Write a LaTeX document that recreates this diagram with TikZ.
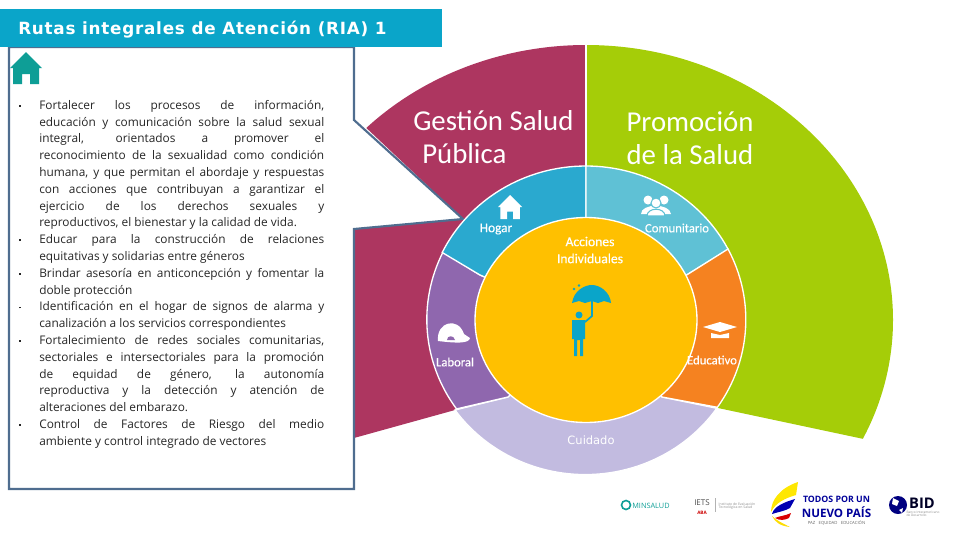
\documentclass[tikz,border=0pt]{standalone}
\usepackage{fontspec}
\usepackage{enumitem}
\setmainfont{Open Sans}
\newfontfamily\titlefont{DejaVu Sans}
\newfontfamily\titlebold[LetterSpace=4.5]{DejaVu Sans Bold}
\newfontfamily\bigfont{Carlito}
\newfontfamily\ringfont[FakeBold=0.4]{Carlito}
\usetikzlibrary{positioning}
\definecolor{gestion}{HTML}{AD3660}
\definecolor{promo}{HTML}{A5CD08}
\definecolor{hogar}{HTML}{2AA9CF}
\definecolor{comun}{HTML}{5FC1D5}
\definecolor{educ}{HTML}{F58220}
\definecolor{laboral}{HTML}{8F67AE}
\definecolor{cuidado}{HTML}{C2BBE0}
\definecolor{accion}{HTML}{FFC000}
\definecolor{bar}{HTML}{0AA5C9}
\definecolor{edge}{HTML}{4F6D8F}
\definecolor{teal}{HTML}{0E9E96}
\newcommand{\fsz}[1]{\fontsize{#1}{#1}\selectfont}
\tikzset{
  ring/.style={draw=white, line width=1pt},
  lbl/.style={text=white, inner sep=0pt, align=center},
  house/.pic={\fill[pic actions] (0,-16) -- (16,0) -- (13,0) -- (13,16) -- (4,16) -- (4,6) -- (-4,6) -- (-4,16) -- (-13,16) -- (-13,0) -- (-16,0) -- cycle;}
}
\begin{document}
\begin{tikzpicture}[x=0.75pt,y=-0.75pt]
\useasboundingbox (0,0) rectangle (960,540);
% outer sectors
\coordinate (c) at (586,320);
\fill[gestion] (586,45) arc[start angle=270,end angle=224.3,x radius=307,y radius=275] -- (463,219) -- (354,229) -- (354,438) -- (455,410) -- (c) -- cycle;
\fill[promo] (586,45) arc[start angle=270,end angle=385.6,x radius=307,y radius=275] -- (718,408) -- (c) -- cycle;
\draw[white,line width=0.8pt] (586,45) -- (c);
% panel
\draw[edge,fill=white,line width=1.6pt] (9,47) -- (354,47) -- (354,120) -- (463,219) -- (354,229) -- (354,489) -- (9,489) -- cycle;
\fill[bar] (0,9) rectangle (442,47);
\node[lbl,anchor=west,font=\titlebold\fsz{12.6}] (title) at (18,30) {Rutas integrales de Atención (RIA) 1};
\pic[teal] at (26,68) {house};
\node[anchor=north west,inner sep=0pt,text=black!85,font=\fsz{8.9}] (body) at (39,100) {%
\begin{minipage}{213.75pt}\baselineskip=12.6pt
\begin{itemize}[leftmargin=0pt,labelsep=14pt,topsep=0pt,itemsep=0pt,parsep=0pt,partopsep=0pt,label={\rule[2pt]{1.3pt}{1.3pt}}]
\item Fortalecer los procesos de información,\linebreak educación y comunicación sobre la salud sexual\linebreak integral, orientados a promover el\linebreak reconocimiento de la sexualidad como condición\linebreak humana, y que permitan el abordaje y respuestas\linebreak con acciones que contribuyan a garantizar el\linebreak ejercicio de los derechos sexuales y\linebreak reproductivos, el bienestar y la calidad de vida.
\item Educar para la construcción de relaciones\linebreak equitativas y solidarias entre géneros
\item Brindar asesoría en anticoncepción y fomentar la\linebreak doble protección
\item Identificación en el hogar de signos de alarma y\linebreak canalización a los servicios correspondientes
\item Fortalecimiento de redes sociales comunitarias,\linebreak sectoriales e intersectoriales para la promoción\linebreak de equidad de género, la autonomía\linebreak reproductiva y la detección y atención de\linebreak alteraciones del embarazo.
\item Control de Factores de Riesgo del medio\linebreak ambiente y control integrado de vectores
\end{itemize}
\end{minipage}};
% middle ring
\fill[cuidado,ring] (508,397) -- (455,410) arc[start angle=144.5,end angle=34.7,x radius=160,y radius=154] -- (662,397) -- (c) -- cycle;
\fill[laboral,ring] (480,275) -- (443,252) arc[start angle=206,end angle=144.5,x radius=160,y radius=154] -- (508,397) -- (c) -- cycle;
\fill[hogar,ring] (586,218) -- (586,166) arc[start angle=270,end angle=206,x radius=160,y radius=154] -- (480,275) -- (c) -- cycle;
\fill[comun,ring] (586,218) -- (586,166) arc[start angle=270,end angle=332.7,x radius=160,y radius=154] -- (685,276) -- (c) -- cycle;
\fill[educ,ring] (685,276) -- (728,249) arc[start angle=-27.3,end angle=34.7,x radius=160,y radius=154] -- (662,397) -- (c) -- cycle;
\fill[accion,ring] (c) ellipse[x radius=111,y radius=102.5];
% labels
\node[lbl,anchor=west,font=\bigfont\fsz{21.6}] (gestionA) at (413,121) {Gestión Salud};
\node[lbl,anchor=west,font=\bigfont\fsz{21.6}] (gestionB) at (422,154) {Pública};
\node[lbl,font=\bigfont\fsz{21.6}] (promoA) at (690,122) {Promoción};
\node[lbl,font=\bigfont\fsz{21.6}] (promoB) at (690,155) {de la Salud};
\node[lbl,font=\ringfont\fsz{10}] (hogarT) at (496,229) {Hogar};
\node[lbl,font=\ringfont\fsz{9.5}] (comunT) at (677,228) {Comunitario};
\node[lbl,font=\ringfont\fsz{10.2}] (accionA) at (590,241.5) {Acciones};
\node[lbl,font=\ringfont\fsz{10.2}] (accionB) at (590,258.5) {Individuales};
\node[lbl,font=\ringfont\fsz{9.5}] (laboralT) at (455,362) {Laboral};
\node[lbl,font=\ringfont\fsz{9.5}] (educT) at (712,360) {Educativo};
\node[lbl,font=\titlefont\fsz{8.6}] (cuidadoT) at (591,440.5) {Cuidado};
% icons
\pic[white,scale=0.75] at (510,207) {house};
\fill[white] (648,200) circle[radius=4.5] (664,200) circle[radius=4.5];
\fill[white] (641,214) .. controls (641,203) and (670,203) .. (671,214) -- cycle;
\fill[white,draw=comun,line width=0.8pt] (656,203) circle[radius=5];
\fill[white,draw=comun,line width=0.8pt] (647,216) .. controls (647,207) and (665,207) .. (665,216) -- cycle;
\fill[white] (438,341) .. controls (436,322) and (458,316) .. (464,334) -- (470,338) .. controls (469,344) and (455,343) .. (438,341) -- cycle;
\fill[laboral] (447,340) .. controls (447,335) and (454,335) .. (455,340) -- cycle;
\fill[white] (703,327) -- (720,322) -- (737,327) -- (720,332) -- cycle;
\fill[white] (711,333) -- (720,335) -- (729,333) -- (729,338) -- (711,338) -- cycle;
\fill[bar] (572,303) .. controls (574,290) and (585,285) .. (592,285) .. controls (600,285) and (610,292) .. (611,303) -- (604,301) -- (598,303) -- (592,301) -- (585,303) -- (579,301) -- cycle;
\draw[bar,line width=1.3pt] (592,300) -- (592,316) -- (585,322);
\fill[bar] (579,315) circle[radius=3.5];
\fill[bar] (572,320) -- (585,320) -- (585,339) -- (583,339) -- (583,356) -- (580,356) -- (580,340) -- (577,340) -- (577,356) -- (574,356) -- (574,339) -- (572,339) -- cycle;
\fill[bar] (574,289) circle[radius=1.3] (579,285.5) circle[radius=1.3];
% logos
\draw[teal,fill=white,line width=1.2pt] (626,505) circle[radius=4.5];
\node[inner sep=0pt,text=teal,font=\fsz{5.5}] (minsalud) at (651,505.5) {MINSALUD};
\node[inner sep=0pt,text=black!70,font=\fsz{6}] (iets) at (702,503) {IETS};
\node[inner sep=0pt,text=red!80!black,font=\fsz{3.5}\bfseries] (ietsC) at (702,512.5) {ABA};
\draw[black!30,line width=0.4pt] (715,498) -- (715,512);
\node[inner sep=0pt,align=left,text=black!45,font=\fsz{2.6}] (ietsB) at (737,506) {Instituto de Evaluación\\Tecnológica en Salud};
\fill[yellow!90!orange] (798,482) .. controls (780,488) and (771,500) .. (771,512) .. controls (776,502) and (786,498) .. (796,495) -- cycle;
\fill[blue!70!black] (795,499) .. controls (785,502) and (774,506) .. (772,514) .. controls (778,512) and (785,511) .. (790,508) -- cycle;
\fill[red!85!black] (791,513) .. controls (785,516) and (779,516) .. (775,518) .. controls (780,521) and (785,520) .. (789,518) -- cycle;
\fill[yellow!80!orange] (772,516) .. controls (775,522) and (780,526) .. (790,527) .. controls (782,523) and (776,520) .. (772,516) -- cycle;
\node[inner sep=0pt,text=blue!60!black,font=\fsz{6.6}\bfseries] (todos) at (836.5,499) {TODOS POR UN};
\node[inner sep=0pt,text=blue!60!black,font=\fsz{8.7}\bfseries] (nuevo) at (836.5,512) {NUEVO PAÍS};
\node[inner sep=0pt,text=black!60,font=\fsz{3.2}] (paz) at (836.5,522.5) {PAZ \; EQUIDAD \; EDUCACIÓN};
\fill[blue!50!black] (898,505) circle[radius=9];
\fill[white] (893,498) -- (899,501) -- (897,506) -- (892,504) -- cycle;
\fill[white] (899,510) -- (903,508) -- (902,513) -- cycle;
\node[inner sep=0pt,text=black!85!blue,font=\fsz{11}\bfseries] (bid) at (922,503.5) {BID};
\node[inner sep=0pt,align=left,text=black!45,font=\fsz{2.4}] (bidB) at (923,514) {Banco Interamericano\\de Desarrollo};
\end{tikzpicture}
\end{document}
